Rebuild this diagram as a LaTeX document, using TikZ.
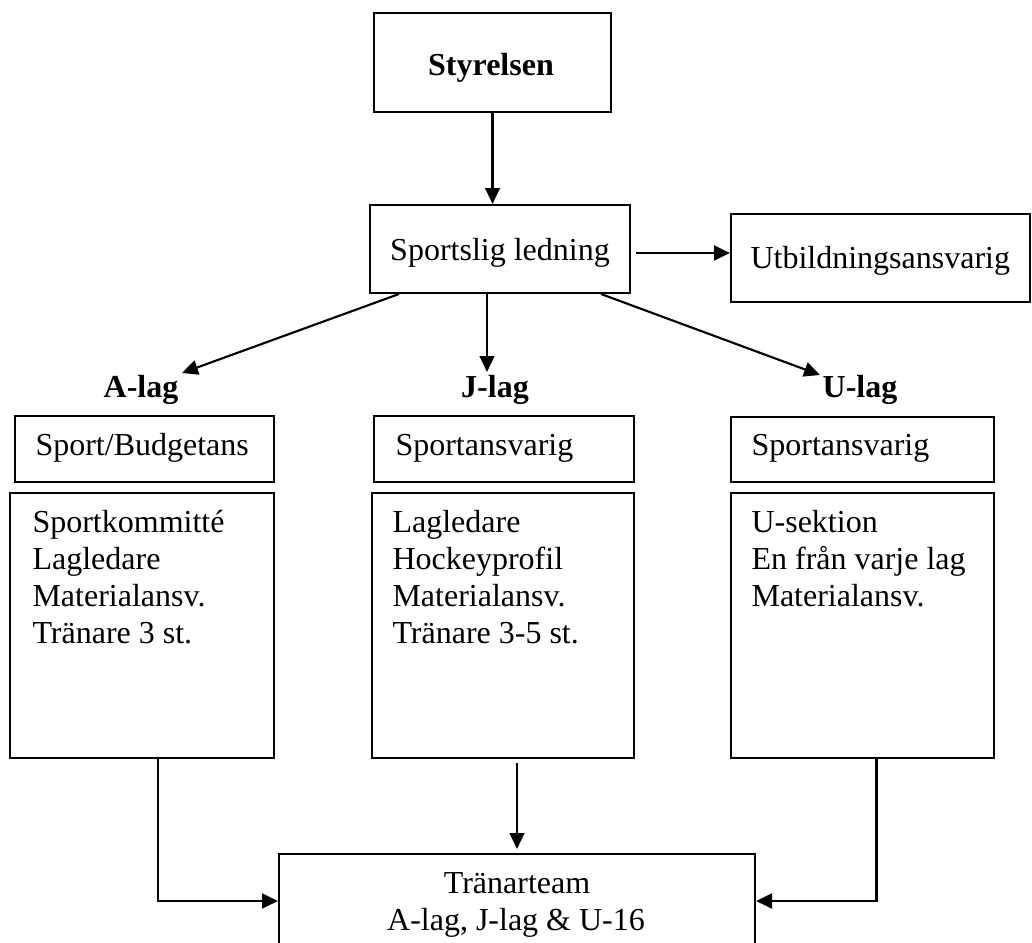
\documentclass[tikz,border=0pt]{standalone}
\usepackage{fontspec}
\setmainfont{Liberation Serif}
\usetikzlibrary{arrows.meta,fit,calc}
\begin{document}
\begin{tikzpicture}[x=0.375pt,y=-0.375pt,
  box/.style={draw,line width=0.75pt,inner sep=0pt},
  txt/.style={inner sep=0pt,anchor=base west,font=\fontsize{12}{14}\selectfont},
  ctxt/.style={inner sep=0pt,anchor=base,font=\fontsize{12}{14}\selectfont},
  btxt/.style={inner sep=0pt,anchor=base,font=\fontsize{12}{14}\selectfont\bfseries},
  conn/.style={line width=0.8pt,-{Triangle[length=6pt,width=5.5pt]}},
  heavyconn/.style={line width=1.1pt,-{Triangle[length=6pt,width=5.5pt]}}
]
\useasboundingbox (0,0) rectangle (1032,942);

% boxes
\node[box,fit={(374,13)(611,112)}] (sty) {};
\node[box,fit={(370,205)(630,293)}] (sl) {};
\node[box,fit={(731,214)(1030,302)}] (utb) {};
\node[box,fit={(15,416)(274,482)}] (asub) {};
\node[box,fit={(374,416)(634,482)}] (jsub) {};
\node[box,fit={(731,417)(994,482)}] (usub) {};
\node[box,fit={(10,493)(274,758)}] (abig) {};
\node[box,fit={(372,493)(634,758)}] (jbig) {};
\node[box,fit={(731,493)(994,758)}] (ubig) {};
\node[box,fit={(279,854)(755,948)}] (tt) {};

% texts
\node[btxt] (styt) at (491,75) {Styrelsen};
\node[ctxt] (slt) at (500,260) {Sportslig ledning};
\node[txt] (utbt) at (750,268) {Utbildningsansvarig};
\node[btxt] (al) at (141,397) {A-lag};
\node[btxt] (jl) at (495,397) {J-lag};
\node[btxt] (ul) at (860,397) {U-lag};
\node[txt] (asubt) at (35,455) {Sport/Budgetans};
\node[txt] (jsubt) at (395,455) {Sportansvarig};
\node[txt] (usubt) at (751,455) {Sportansvarig};
\foreach \t [count=\i] in {Sportkommitté,Lagledare,Materialansv.,Tränare 3 st.}
  \node[txt] (at\i) at (32,{532+37.3*(\i-1)}) {\t};
\foreach \t [count=\i] in {Lagledare,Hockeyprofil,Materialansv.,Tränare 3-5 st.}
  \node[txt] (jt\i) at (392,{532+37.3*(\i-1)}) {\t};
\foreach \t [count=\i] in {U-sektion,En från varje lag,Materialansv.}
  \node[txt] (ut\i) at (751,{532+37.3*(\i-1)}) {\t};
\node[ctxt] (tt1) at (517,893) {Tränarteam};
\node[ctxt] (tt2) at (516,930) {A-lag, J-lag \& U-16};

% connectors
\draw[conn] (sty.south) -- (sty.south |- sl.north);
\coordinate (hs) at ($(sl.east)+(5,4)$);
\draw[heavyconn] (hs) -- (hs -| utb.west);
\coordinate (atip) at (182,373);
\coordinate (utip) at (820,375);
\coordinate (jtip) at (487,372);
\draw[conn] ($(sl.south west)+(30,0)$) -- (atip);
\draw[conn] ($(sl.south)+(-13,0)$) -- (jtip);
\draw[conn] ($(sl.south east)+(-30,0)$) -- (utip);
\coordinate (as) at ($(abig.south)+(16,0)$);
\draw[heavyconn] (as) |- (tt.west);
\draw[conn,shorten <=1.5pt,shorten >=1.5pt] (tt.north |- jbig.south) -- (tt.north);
\coordinate (us) at ($(ubig.south)+(14,0)$);
\draw[heavyconn] (us) |- (tt.east);
\end{tikzpicture}
\end{document}
